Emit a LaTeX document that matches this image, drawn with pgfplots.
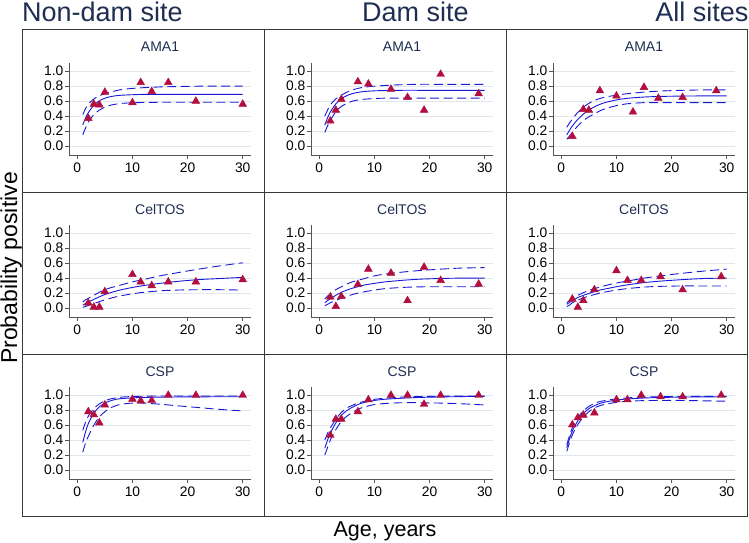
\documentclass[border=0pt]{standalone}
\usepackage{pgfplots}
\usepackage{pgfplotstable}
\pgfplotsset{compat=1.18}
\usepackage{fontspec}
\setmainfont{Liberation Sans}

\definecolor{fitc}{RGB}{24,24,215}
\definecolor{cranb}{RGB}{178,14,62}
\definecolor{navyc}{RGB}{30,45,82}
\definecolor{gridc}{RGB}{224,231,237}
\definecolor{axisg}{RGB}{85,85,85}

% ---------- fitted curves: x, fit, lower, upper ----------
\pgfplotstableread{
x f lo hi
1 0.280 0.15 0.42
1.5 0.374 0.24 0.50
2 0.446 0.32 0.56
3 0.545 0.42 0.63
4 0.604 0.48 0.67
5 0.639 0.52 0.70
6 0.660 0.545 0.72
7 0.672 0.56 0.74
8 0.679 0.57 0.755
10 0.686 0.578 0.77
12 0.690 0.582 0.78
15 0.690 0.585 0.79
18 0.690 0.585 0.795
22 0.690 0.585 0.80
26 0.690 0.585 0.80
30 0.690 0.585 0.80
}\cA
\pgfplotstableread{
x f lo hi
1 0.279 0.18 0.40
1.5 0.377 0.27 0.48
2 0.454 0.34 0.55
3 0.563 0.46 0.63
4 0.631 0.53 0.68
5 0.674 0.57 0.72
6 0.701 0.60 0.75
7 0.717 0.615 0.77
8 0.728 0.625 0.785
10 0.738 0.635 0.80
12 0.742 0.64 0.81
15 0.745 0.64 0.82
18 0.745 0.64 0.825
22 0.745 0.64 0.825
26 0.745 0.64 0.825
30 0.745 0.64 0.825
}\cB
\pgfplotstableread{
x f lo hi
1 0.150 0.09 0.25
1.5 0.212 0.135 0.31
2 0.267 0.18 0.36
3 0.357 0.27 0.45
4 0.427 0.34 0.52
5 0.482 0.39 0.57
6 0.524 0.43 0.61
7 0.557 0.47 0.635
8 0.582 0.50 0.655
10 0.617 0.54 0.68
12 0.638 0.565 0.70
15 0.655 0.58 0.72
18 0.663 0.58 0.735
22 0.668 0.58 0.745
26 0.670 0.58 0.75
30 0.670 0.58 0.75
}\cC
\pgfplotstableread{
x f lo hi
1 0.04 0.01 0.08
1.5 0.06 0.02 0.11
2 0.08 0.035 0.13
3 0.115 0.06 0.17
4 0.15 0.085 0.21
5 0.18 0.11 0.245
6 0.205 0.13 0.27
7 0.225 0.15 0.29
8 0.245 0.165 0.31
10 0.275 0.19 0.35
12 0.30 0.21 0.38
15 0.33 0.23 0.43
18 0.355 0.24 0.47
22 0.38 0.245 0.52
26 0.395 0.245 0.565
30 0.41 0.24 0.605
}\cD
\pgfplotstableread{
x f lo hi
1 0.07 0.03 0.12
1.5 0.10 0.05 0.16
2 0.125 0.07 0.19
3 0.17 0.10 0.245
4 0.21 0.13 0.285
5 0.24 0.155 0.32
6 0.265 0.18 0.35
7 0.285 0.20 0.37
8 0.305 0.215 0.39
10 0.33 0.24 0.43
12 0.35 0.26 0.455
15 0.37 0.275 0.48
18 0.385 0.283 0.50
22 0.395 0.285 0.52
26 0.40 0.285 0.535
30 0.40 0.285 0.54
}\cE
\pgfplotstableread{
x f lo hi
1 0.05 0.02 0.07
1.5 0.075 0.04 0.10
2 0.10 0.07 0.125
3 0.14 0.105 0.17
4 0.17 0.135 0.205
5 0.195 0.16 0.235
6 0.22 0.18 0.26
7 0.24 0.20 0.28
8 0.255 0.215 0.30
10 0.285 0.24 0.335
12 0.31 0.26 0.36
15 0.34 0.28 0.40
18 0.36 0.29 0.43
22 0.38 0.295 0.465
26 0.395 0.295 0.495
30 0.40 0.295 0.52
}\cF
\pgfplotstableread{
x f lo hi
1 0.37 0.24 0.53
1.5 0.51 0.36 0.64
2 0.62 0.45 0.72
3 0.76 0.60 0.82
4 0.845 0.71 0.885
5 0.895 0.78 0.925
6 0.925 0.83 0.95
7 0.945 0.86 0.965
8 0.955 0.88 0.975
10 0.965 0.895 0.983
12 0.97 0.895 0.987
15 0.975 0.88 0.99
18 0.977 0.86 0.99
22 0.978 0.835 0.99
26 0.98 0.81 0.99
30 0.98 0.79 0.99
}\cG
\pgfplotstableread{
x f lo hi
1 0.29 0.20 0.40
1.5 0.40 0.30 0.49
2 0.49 0.40 0.56
3 0.63 0.54 0.68
4 0.73 0.65 0.77
5 0.795 0.72 0.83
6 0.84 0.77 0.865
7 0.875 0.81 0.895
8 0.90 0.84 0.915
10 0.93 0.875 0.945
12 0.947 0.89 0.96
15 0.96 0.90 0.975
18 0.97 0.90 0.982
22 0.977 0.895 0.987
26 0.982 0.885 0.99
30 0.985 0.87 0.99
}\cH
\pgfplotstableread{
x f lo hi
1 0.30 0.25 0.34
1.5 0.42 0.37 0.46
2 0.52 0.47 0.565
3 0.66 0.61 0.70
4 0.755 0.71 0.79
5 0.82 0.78 0.85
6 0.86 0.83 0.89
7 0.89 0.86 0.915
8 0.91 0.88 0.93
10 0.935 0.905 0.952
12 0.95 0.92 0.965
15 0.963 0.928 0.975
18 0.97 0.93 0.98
22 0.975 0.93 0.983
26 0.978 0.925 0.985
30 0.98 0.92 0.985
}\cI

% ---------- observed proportions ----------
\pgfplotstableread{
x y
2 0.37
3 0.56
4 0.55
5 0.72
10 0.58
11.5 0.85
13.5 0.73
16.5 0.85
21.5 0.60
30 0.56
}\mA
\pgfplotstableread{
x y
2 0.335
3 0.48
4 0.625
7 0.86
8.9 0.83
13 0.76
16 0.65
19 0.48
22 0.96
28.9 0.70
}\mB
\pgfplotstableread{
x y
2 0.13
4 0.49
5 0.48
7 0.74
10 0.67
13 0.455
15 0.785
17.6 0.64
22 0.65
28.1 0.74
}\mC
\pgfplotstableread{
x y
2 0.067
3 0.013
4 0.013
5 0.22
10 0.45
11.5 0.35
13.5 0.30
16.5 0.35
21.5 0.35
30 0.38
}\mD
\pgfplotstableread{
x y
2 0.147
3 0.022
4 0.155
7 0.315
8.9 0.52
13 0.467
16 0.10
19 0.547
22 0.37
28.9 0.32
}\mE
\pgfplotstableread{
x y
2 0.12
3 0.01
4 0.10
6 0.245
10 0.50
12 0.37
14.5 0.37
18 0.42
22 0.245
29 0.42
}\mF
\pgfplotstableread{
x y
2 0.78
3 0.74
4 0.63
5 0.87
10 0.947
11.5 0.925
13.5 0.93
16.5 1.0
21.5 1.0
30 1.0
}\mG
\pgfplotstableread{
x y
2 0.465
3 0.68
4 0.68
7 0.78
8.9 0.94
13 1.0
16 1.0
19 0.88
22 1.0
28.9 1.0
}\mH
\pgfplotstableread{
x y
2 0.605
3 0.70
4 0.735
6 0.765
10 0.94
12 0.94
14.5 1.0
18 0.98
22 0.98
29 1.0
}\mI

\pgfplotsset{
  panel/.style={
    scale only axis, width=182pt, height=92pt,
    anchor=north west,
    xmin=-1.5, xmax=31.5, ymin=-0.12, ymax=1.11,
    axis x line*=bottom, axis y line*=left,
    xtick pos=bottom, ytick pos=left,
    axis line style={-, draw=axisg, line width=0.8pt},
    xtick={0,10,20,30}, ytick={0,0.2,0.4,0.6,0.8,1.0},
    ymajorgrids, grid style={draw=gridc, line width=0.7pt},
    tick align=outside, major tick length=4pt,
    tick style={draw=axisg, line width=0.8pt},
    /pgf/number format/assume math mode=true,
    tick label style={font=\fontsize{13.8}{16}\selectfont, text=black},
    xticklabel style={inner sep=3.5pt},
    yticklabel style={inner sep=1.5pt, /pgf/number format/.cd, fixed, fixed zerofill, precision=1},
    title style={at={(0.5,1)}, anchor=base, yshift=5pt, inner sep=0pt,
      font=\fontsize{14}{16}\selectfont, text=navyc},
  },
  ci/.style={fitc, line width=0.9pt, smooth, no markers, dash pattern=on 9pt off 4.5pt},
  fit/.style={fitc, line width=0.9pt, smooth, no markers},
  obs/.style={only marks, mark=triangle*, mark size=4.5pt, draw=cranb, fill=cranb},
}

\newcommand{\panel}[5]{%
\begin{axis}[panel, at={(#1pt,#2pt)}, title={#3}]
\addplot[ci] table[x=x,y=lo]{#4};
\addplot[ci] table[x=x,y=hi]{#4};
\addplot[fit] table[x=x,y=f]{#4};
\addplot[obs] table[x=x,y=y]{#5};
\end{axis}}

\begin{document}
\begin{tikzpicture}[x=1pt,y=1pt]
\path[use as bounding box] (0,0) rectangle (749,542);

% panel frames
\draw[black!78, line width=1pt] (22,512) rectangle (747.5,26);
\draw[black!78, line width=1pt] (264,512) -- (264,26);
\draw[black!78, line width=1pt] (506,512) -- (506,26);
\draw[black!78, line width=1pt] (22,350) -- (747.5,350);
\draw[black!78, line width=1pt] (22,188) -- (747.5,188);

\panel{69}{479}{AMA1}{\cA}{\mA}
\panel{311}{479}{AMA1}{\cB}{\mB}
\panel{553}{479}{AMA1}{\cC}{\mC}
\panel{69}{317}{CelTOS}{\cD}{\mD}
\panel{311}{317}{CelTOS}{\cE}{\mE}
\panel{553}{317}{CelTOS}{\cF}{\mF}
\panel{69}{155}{CSP}{\cG}{\mG}
\panel{311}{155}{CSP}{\cH}{\mH}
\panel{553}{155}{CSP}{\cI}{\mI}

% column titles
\node[anchor=base west, inner sep=0pt, text=navyc, font=\fontsize{27}{30}\selectfont] at (22,520.3) {Non-dam site};
\node[anchor=base west, inner sep=0pt, text=navyc, font=\fontsize{27}{30}\selectfont] at (362,520.3) {Dam site};
\node[anchor=base east, inner sep=0pt, text=navyc, font=\fontsize{27}{30}\selectfont] at (748.5,520.3) {All sites};

% axis titles
\node[rotate=90, anchor=base, inner sep=0pt, font=\fontsize{23}{26}\selectfont] at (17,274) {Probability positive};
\node[anchor=base, inner sep=0pt, font=\fontsize{21.5}{24}\selectfont] at (385,5.3) {Age, years};
\end{tikzpicture}
\end{document}
